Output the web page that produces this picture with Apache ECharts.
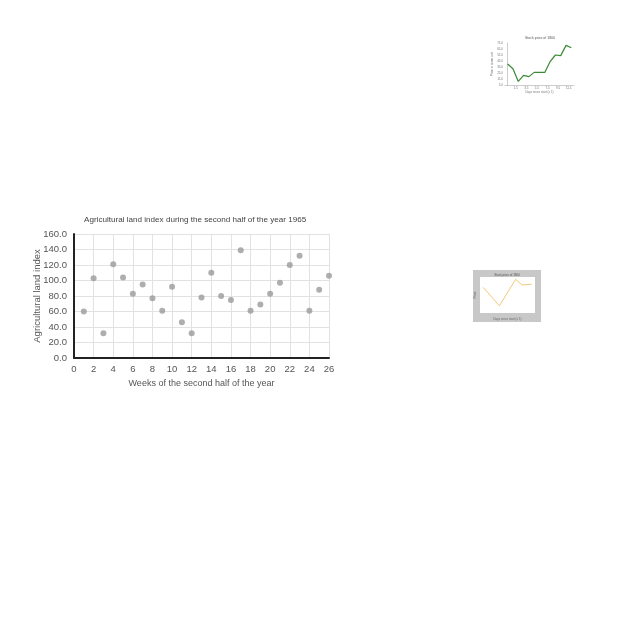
<!DOCTYPE html>
<html>
<head>
<meta charset="utf-8">
<script src="https://cdn.jsdelivr.net/npm/echarts@6/dist/echarts.min.js"></script>
<style>
  html, body { margin: 0; padding: 0; background: #fff; }
  #chart { width: 640px; height: 640px; }
</style>
</head>
<body>
<div id="chart"></div>
<script>
// main scatter: weeks vs agricultural land index
const weeks = [1, 2, 3, 4, 5, 6, 7, 8, 9, 10, 11, 12, 13, 14, 15, 16, 17, 18, 19, 20, 21, 22, 23, 24, 25, 26]
const landIndex = [60, 103, 32, 121, 104, 83, 95, 77, 61, 92, 46, 32, 78, 110, 80, 75, 139, 61, 69, 83, 97, 120, 132, 61, 88, 106]

// thumbnail 1 (green line)
const thumbAx = [0, 1, 2, 3, 4, 5, 6, 7, 8, 9, 10, 11, 12]
const thumbAy = [40, 32, 11, 21, 19, 26, 26, 26, 44, 55, 54, 71, 67]

// thumbnail 2 (orange line)
const thumbBx = [1, 6, 11, 13, 16]
const thumbBy = [32, 9, 42, 35, 36]

const chart = echarts.init(document.getElementById('chart'))

const tinyLabel = { fontSize: 3, color: '#777' }

const option = {
  animation: false,
  backgroundColor: '#fff',
  textStyle: { fontFamily: 'Liberation Sans, Arial, sans-serif' },
  title: {
    text: 'Agricultural land index during the second half of the year 1965',
    left: 79,
    top: 211,
    textStyle: { fontSize: 8.1, fontWeight: 'normal', color: '#444' }
  },
  graphic: [
    {
      type: 'rect',
      shape: { x: 473, y: 270, width: 68, height: 52 },
      style: { fill: '#c8c8c8' },
      z: -10
    },
    {
      type: 'text',
      x: 540,
      y: 38,
      style: { text: 'Stock price of 1800', fontSize: 3.5, fill: '#555', align: 'center', verticalAlign: 'middle' }
    },
    {
      type: 'text',
      x: 507,
      y: 275,
      z: 10,
      style: { text: 'Stock price of 1800', fontSize: 3, fill: '#555', align: 'center', verticalAlign: 'middle' }
    }
  ],
  grid: [
    { left: 74, top: 234, width: 255, height: 124 },
    { left: 505, top: 43, width: 69, height: 42 },
    { left: 480, top: 277, width: 55, height: 36, show: true, backgroundColor: '#fff', borderWidth: 0 }
  ],
  xAxis: [
    {
      gridIndex: 0,
      type: 'value',
      min: 0,
      max: 26,
      interval: 2,
      name: 'Weeks of the second half of the year',
      nameLocation: 'middle',
      nameGap: 21,
      nameTextStyle: { fontSize: 9, color: '#555' },
      axisLine: { show: true, onZero: false, lineStyle: { color: '#222', width: 2 } },
      axisTick: { show: false },
      axisLabel: { fontSize: 9.5, color: '#555', margin: 6 },
      splitLine: { show: true, lineStyle: { color: '#e2e2e2', width: 1 } }
    },
    {
      gridIndex: 1,
      type: 'value',
      min: -0.5,
      max: 12.5,
      interval: 2,
      name: 'Days since start (x 1)',
      nameLocation: 'middle',
      nameGap: 6,
      nameTextStyle: { fontSize: 3, color: '#777' },
      axisLine: { show: true, lineStyle: { color: '#999', width: 0.5 } },
      axisTick: { show: false },
      axisLabel: Object.assign({ margin: 2, showMinLabel: false, showMaxLabel: false }, tinyLabel),
      splitLine: { show: false }
    },
    {
      gridIndex: 2,
      type: 'value',
      min: 0,
      max: 17,
      interval: 2,
      name: 'Days since start (x 1)',
      nameLocation: 'middle',
      nameGap: 5,
      nameTextStyle: { fontSize: 3, color: '#666' },
      axisLine: { show: false },
      axisTick: { show: false },
      axisLabel: { show: false },
      splitLine: { show: false }
    }
  ],
  yAxis: [
    {
      gridIndex: 0,
      type: 'value',
      min: 0,
      max: 160,
      interval: 20,
      name: 'Agricultural land index',
      nameLocation: 'middle',
      nameGap: 32,
      nameMoveOverlap: false,
      nameTextStyle: { fontSize: 9.5, color: '#555' },
      axisLine: { show: true, lineStyle: { color: '#222', width: 2 } },
      axisTick: { show: false },
      axisLabel: {
        fontSize: 9.5,
        color: '#555',
        margin: 7,
        formatter: v => v.toFixed(1)
      },
      splitLine: { show: true, lineStyle: { color: '#e2e2e2', width: 1 } }
    },
    {
      gridIndex: 1,
      type: 'value',
      min: 5,
      max: 75,
      interval: 10,
      name: 'Price in some unit',
      nameLocation: 'middle',
      nameGap: 8,
      nameTextStyle: { fontSize: 3, color: '#777' },
      axisLine: { show: true, lineStyle: { color: '#999', width: 0.5 } },
      axisTick: { show: false },
      axisLabel: Object.assign({ margin: 2, formatter: v => v.toFixed(1) }, tinyLabel),
      splitLine: { show: false }
    },
    {
      gridIndex: 2,
      type: 'value',
      min: 0,
      max: 45,
      interval: 5,
      name: 'Price',
      nameLocation: 'middle',
      nameGap: 3,
      nameTextStyle: { fontSize: 3, color: '#666' },
      axisLine: { show: false },
      axisTick: { show: false },
      axisLabel: { show: false },
      splitLine: { show: false }
    }
  ],
  series: [
    {
      type: 'scatter',
      xAxisIndex: 0,
      yAxisIndex: 0,
      symbolSize: 6,
      itemStyle: { color: '#9a9a9a' },
      data: weeks.map((w, i) => [w, landIndex[i]])
    },
    {
      type: 'line',
      xAxisIndex: 1,
      yAxisIndex: 1,
      showSymbol: false,
      lineStyle: { color: '#3a8a35', width: 1.2 },
      data: thumbAx.map((x, i) => [x, thumbAy[i]])
    },
    {
      type: 'line',
      xAxisIndex: 2,
      yAxisIndex: 2,
      showSymbol: false,
      lineStyle: { color: '#f3c87a', width: 1 },
      data: thumbBx.map((x, i) => [x, thumbBy[i]])
    }
  ]
}

chart.setOption(option)
</script>
</body>
</html>
